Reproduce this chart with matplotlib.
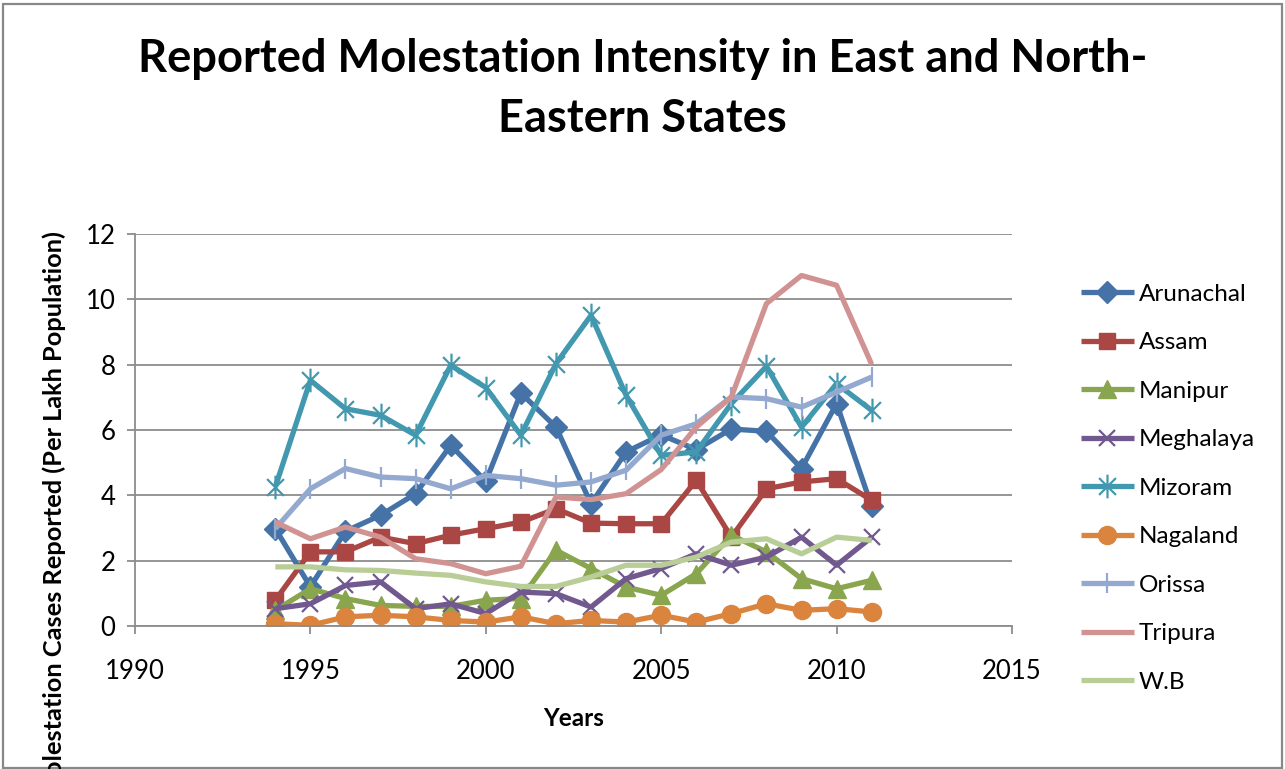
import matplotlib
matplotlib.use("Agg")
import matplotlib.pyplot as plt
from matplotlib.path import Path
from matplotlib.patches import Rectangle

years = list(range(1994, 2012))

arunachal = [2.98, 1.2, 2.9, 3.39, 4.05, 5.53, 4.43, 7.13, 6.09, 3.74, 5.33, 5.85, 5.4, 6.03, 5.96, 4.82, 6.81, 3.66]
assam = [0.79, 2.27, 2.27, 2.72, 2.52, 2.78, 2.98, 3.18, 3.59, 3.15, 3.13, 3.13, 4.46, 2.72, 4.2, 4.41, 4.51, 3.85]
manipur = [0.48, 1.14, 0.84, 0.63, 0.6, 0.6, 0.79, 0.84, 2.32, 1.76, 1.19, 0.94, 1.6, 2.78, 2.27, 1.45, 1.14, 1.4]
meghalaya = [0.53, 0.68, 1.24, 1.35, 0.53, 0.68, 0.38, 1.04, 0.99, 0.58, 1.45, 1.76, 2.21, 1.86, 2.11, 2.72, 1.86, 2.72]
mizoram = [4.26, 7.52, 6.65, 6.45, 5.84, 7.98, 7.3, 5.84, 8.03, 9.51, 7.06, 5.22, 5.33, 6.81, 7.95, 6.09, 7.42, 6.6]
nagaland = [0.07, 0.02, 0.28, 0.33, 0.28, 0.17, 0.12, 0.28, 0.07, 0.17, 0.12, 0.33, 0.12, 0.38, 0.68, 0.48, 0.53, 0.43]
orissa = [2.98, 4.2, 4.82, 4.56, 4.51, 4.2, 4.61, 4.51, 4.31, 4.41, 4.77, 5.84, 6.19, 7.01, 6.96, 6.7, 7.16, 7.62]
tripura = [3.18, 2.67, 3.03, 2.72, 2.06, 1.91, 1.6, 1.83, 3.95, 3.87, 4.05, 4.79, 6.09, 7.01, 9.87, 10.73, 10.43, 8.01]
wb = [1.81, 1.81, 1.72, 1.7, 1.62, 1.55, 1.35, 1.21, 1.21, 1.5, 1.86, 1.86, 2.11, 2.57, 2.67, 2.21, 2.72, 2.62]

state_names = ["Arunachal", "Assam", "Manipur", "Meghalaya", "Mizoram",
               "Nagaland", "Orissa", "Tripura", "W.B"]
state_values = [arunachal, assam, manipur, meghalaya, mizoram,
                nagaland, orissa, tripura, wb]

x_ticks = [1990, 1995, 2000, 2005, 2010, 2015]
y_ticks = [0, 2, 4, 6, 8, 10, 12]

# Excel-style star marker: an X with a vertical bar through it
star = Path([(-0.5, -0.5), (0.5, 0.5), (-0.5, 0.5), (0.5, -0.5), (0, -0.7), (0, 0.7)],
            [Path.MOVETO, Path.LINETO, Path.MOVETO, Path.LINETO, Path.MOVETO, Path.LINETO])

styles = [
    dict(color="#4572A7", marker="D", ms=11),
    dict(color="#AA4643", marker="s", ms=12),
    dict(color="#89A54E", marker="^", ms=13),
    dict(color="#71588F", marker="x", ms=12, mew=1.6),
    dict(color="#4198AF", marker=star, ms=17, mew=1.6),
    dict(color="#DB843D", marker="o", ms=13),
    dict(color="#93A9CF", marker="|", ms=14, mew=1.6),
    dict(color="#D19392", marker=None),
    dict(color="#B9CD96", marker=None),
]

plt.rcParams["font.family"] = ["Lato", "DejaVu Sans"]

fig = plt.figure(figsize=(12.85, 7.69), dpi=100)
ax = fig.add_axes([135 / 1285, 1 - 626 / 769, 877 / 1285, 392 / 769])

for name, vals, st in zip(state_names, state_values, styles):
    ax.plot(years, vals, lw=3.8, label=name, solid_joinstyle="round",
            solid_capstyle="butt", **st)

ax.set_xlim(1990, 2015)
ax.set_ylim(0, 12)
ax.set_xticks(x_ticks)
ax.set_yticks(y_ticks)
ax.yaxis.grid(True, color="#8C8C8C", lw=1.3)
ax.set_axisbelow(True)
for side in ("top", "right"):
    ax.spines[side].set_visible(False)
for side in ("left", "bottom"):
    ax.spines[side].set_color("#8C8C8C")
    ax.spines[side].set_linewidth(1.3)
ax.tick_params(axis="both", colors="#8C8C8C", labelcolor="black",
               length=6, width=1.3, labelsize=18.5)
ax.tick_params(axis="x", pad=18)
ax.tick_params(axis="y", pad=8)

ax.set_xlabel("Years", fontsize=17.5, fontweight="bold", labelpad=16)

fig.text(54 / 1285, 1 - 231 / 769, "Molestation Cases Reported (Per Lakh Population)",
         rotation=90, ha="center", va="top", fontsize=18.3, fontweight="bold")

fig.text(0.5, 1 - 89 / 769,
         "Reported Molestation Intensity in East and North-\nEastern States",
         ha="center", va="center", fontsize=32.6, fontweight="bold",
         linespacing=1.52)

leg = ax.legend(loc="upper left", bbox_to_anchor=(1071 / 1285, 1 - 274 / 769),
                bbox_transform=fig.transFigure, frameon=False, fontsize=17.5,
                handlelength=2.2, handletextpad=0.2, labelspacing=1.13,
                borderaxespad=0)

fig.patches.append(Rectangle((3 / 1285, 1 / 769), 1279 / 1285, 764 / 769,
                             transform=fig.transFigure, fill=False,
                             edgecolor="#888888", lw=1.6))

fig.savefig("out.png", dpi=100)
